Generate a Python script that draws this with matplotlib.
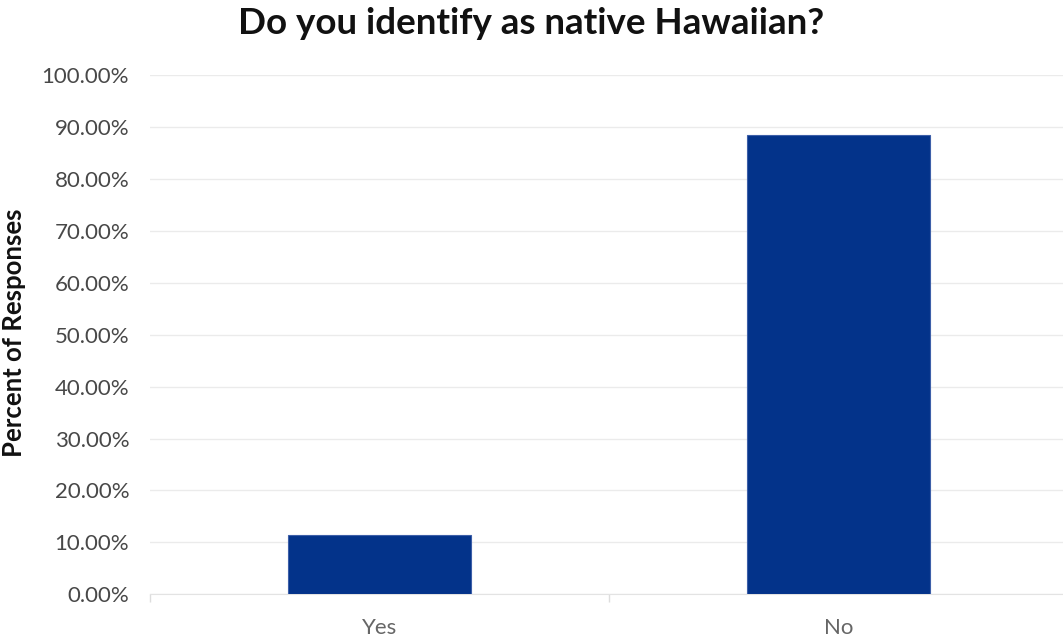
import matplotlib.pyplot as plt
from matplotlib.ticker import FuncFormatter

categories = ['Yes', 'No']
percents = [11.5, 88.5]
y_ticks = [0, 10, 20, 30, 40, 50, 60, 70, 80, 90, 100]

plt.rcParams['font.family'] = ['Lato', 'DejaVu Sans']

fig = plt.figure(figsize=(10.63, 6.42), dpi=100)
ax = fig.add_axes([150 / 1063, 47.7 / 642, 913 / 1063, 519.3 / 642])

x = list(range(len(categories)))
ax.bar(x, percents, width=0.4, color='#03338a', edgecolor='#3d5fa8', linewidth=0.8, zorder=3)

ax.set_xlim(-0.5, 1.489)
ax.set_ylim(0, 100)
ax.set_yticks(y_ticks)
ax.yaxis.set_major_formatter(FuncFormatter(lambda v, p: f'{v:.2f}%'))
ax.grid(axis='y', color='#ebebeb', linewidth=1, zorder=0)

ax.set_xticks(x)
ax.set_xticklabels(categories)
ax.set_xticks([-0.5, 0.5], minor=True)
ax.tick_params(axis='x', which='major', length=0, pad=17, labelsize=16, labelcolor='#666666')
ax.tick_params(axis='x', which='minor', length=6, color='#dddddd', width=1)
ax.tick_params(axis='y', length=0, pad=15, labelsize=16, labelcolor='#484848')

for side in ['top', 'right', 'left']:
    ax.spines[side].set_visible(False)
ax.spines['bottom'].set_color('#e3e3e3')

# y label and title placed in figure pixels
fig.text(14 / 1063, 1 - 333 / 642, 'Percent of Responses', rotation=90, ha='center', va='center',
         fontsize=18.5, fontweight='bold', color='#111111')
fig.text(531 / 1063, 1 - 23 / 642, 'Do you identify as native Hawaiian?', ha='center', va='center',
         fontsize=26.5, fontweight='bold', color='#111111')

fig.savefig('out.png', dpi=100)
